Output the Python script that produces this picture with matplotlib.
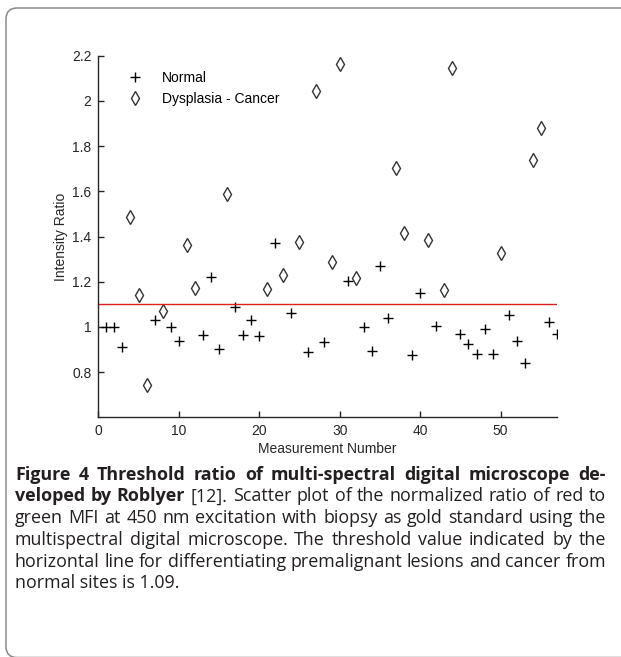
import matplotlib
matplotlib.use("Agg")
import matplotlib.pyplot as plt
from matplotlib.patches import FancyBboxPatch

normal_x = [1, 2, 3, 7, 9, 10, 13, 14, 15, 17, 18, 19, 20, 22, 24, 26, 28, 31,
            33, 34, 35, 36, 39, 40, 42, 45, 46, 47, 48, 49, 51, 52, 53, 56, 57]
normal_y = [1.00, 1.00, 0.911, 1.03, 1.00, 0.937, 0.963, 1.22, 0.904, 1.09,
            0.963, 1.03, 0.959, 1.372, 1.06, 0.889, 0.931, 1.201, 1.00, 0.894,
            1.268, 1.04, 0.877, 1.149, 1.005, 0.968, 0.926, 0.882, 0.989,
            0.882, 1.053, 0.937, 0.842, 1.023, 0.968]

dys_x = [4, 5, 6, 8, 11, 12, 16, 21, 23, 25, 27, 29, 30, 32, 37, 38, 41, 43,
         44, 50, 54, 55]
dys_y = [1.486, 1.14, 0.745, 1.072, 1.363, 1.17, 1.587, 1.167, 1.231, 1.375,
         2.045, 1.287, 2.164, 1.216, 1.702, 1.414, 1.385, 1.164, 2.144, 1.327,
         1.739, 1.88]

threshold = 1.1
x_ticks = [0, 10, 20, 30, 40, 50]
y_ticks = [0.8, 1.0, 1.2, 1.4, 1.6, 1.8, 2.0, 2.2]
y_ticklabels = ["0.8", "1", "1.2", "1.4", "1.6", "1.8", "2", "2.2"]

caption_lines = [
    [("Figure 4 Threshold ratio of multi-spectral digital microscope de-", "bold")],
    [("veloped by Roblyer", "bold"),
     ("[12]. Scatter plot of the normalized ratio of red to", "normal")],
    [("green MFI at 450 nm excitation with biopsy as gold standard using the", "normal")],
    [("multispectral digital microscope. The threshold value indicated by the", "normal")],
    [("horizontal line for differentiating premalignant lesions and cancer from", "normal")],
    [("normal sites is 1.09.", "normal")],
]

W, H = 621, 657
fig = plt.figure(figsize=(W / 100, H / 100), dpi=100)
renderer = fig.canvas.get_renderer()

# rounded frame, open past the right / bottom edge of the image
frame = FancyBboxPatch((6, H - 657.5), 700, 657.5 - 8,
                       boxstyle="round,pad=0,rounding_size=11",
                       transform=None, facecolor="white",
                       edgecolor="#8a8a8a", linewidth=1.1, zorder=-5)
fig.patches.append(frame)

ax = fig.add_axes([98.3 / W, 1 - 417.3 / H, (557 - 98.3) / W, (417.3 - 55.7) / H])
ax.patch.set_alpha(0)

ink = "#262626"
ax.plot(normal_x, normal_y, linestyle="none", marker="+", markersize=6.5,
        markeredgewidth=1.0, color="black", label="Normal")
ax.plot(dys_x, dys_y, linestyle="none", marker="d", markersize=7.5,
        markeredgewidth=1.0, markerfacecolor="none", markeredgecolor="#333333",
        label="Dysplasia - Cancer")
ax.axhline(threshold, color="#e0201b", linewidth=1.0)

ax.set_xlim(0, 57)
ax.set_ylim(0.6, 2.2)
ax.set_xticks(x_ticks)
ax.set_yticks(y_ticks)
ax.set_yticklabels(y_ticklabels)
for side in ["top", "right"]:
    ax.spines[side].set_visible(False)
for side in ["left", "bottom"]:
    ax.spines[side].set_color(ink)
    ax.spines[side].set_linewidth(1.0)
ax.tick_params(direction="in", length=4, width=1.0, colors=ink,
               labelsize=10, pad=5)
for lab in ax.get_xticklabels() + ax.get_yticklabels():
    lab.set_fontfamily("Liberation Sans")
ax.set_xlabel("Measurement Number", fontsize=10, family="Liberation Sans",
              color=ink, labelpad=3)
ax.set_ylabel("Intensity Ratio", fontsize=10, family="Liberation Sans",
              color=ink, labelpad=3)

ax.legend(loc="upper left", bbox_to_anchor=(0.05, 0.957), frameon=False,
          borderpad=0, borderaxespad=0, handlelength=2.0, handletextpad=0.9,
          labelspacing=0.5, prop={"family": "Liberation Sans", "size": 10})

# caption: size the font so a full line fits, then justify each line
cap_font = "Open Sans"
left_px, right_px = 15, 606
probe = fig.text(0, 0, caption_lines[2][0][0], fontsize=12, family=cap_font)
natural = probe.get_window_extent(renderer).width
probe.remove()
cap_size = 12 * (right_px - left_px) * 0.985 / natural

base_px = [479.5, 501.3, 523.1, 544.9, 566.7, 588.5]
for i, parts in enumerate(caption_lines):
    words = []
    for text, weight in parts:
        for w in text.split(" "):
            words.append((w, weight))
    y = 1 - base_px[i] / H
    if i == len(caption_lines) - 1:
        fig.text(left_px / W, y, parts[0][0], fontsize=cap_size, family=cap_font,
                 va="baseline", ha="left", color="#231f20")
        continue
    arts = [fig.text(0, y, w, fontsize=cap_size, family=cap_font, fontweight=wt,
                     va="baseline", ha="left", color="#231f20")
            for w, wt in words]
    widths = [a.get_window_extent(renderer).width for a in arts]
    gap = (right_px - left_px - sum(widths)) / (len(arts) - 1)
    x = left_px
    for a, wd in zip(arts, widths):
        a.set_x(x / W)
        x += wd + gap

fig.savefig("out.png", dpi=100)
